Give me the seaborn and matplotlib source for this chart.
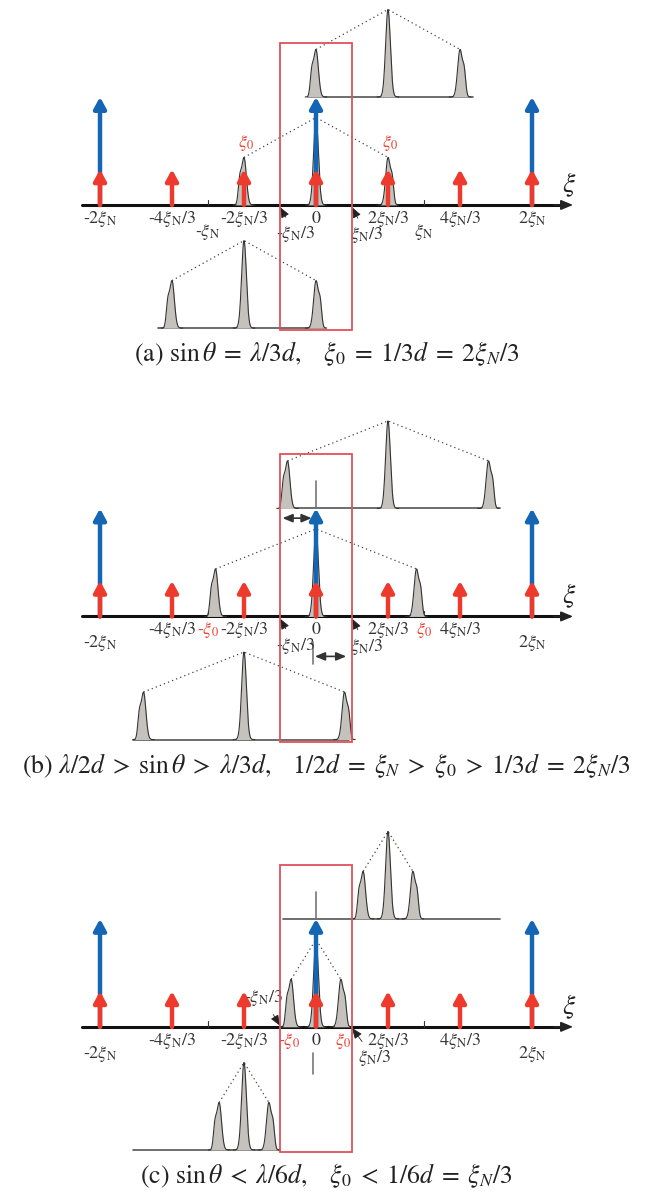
import numpy as np
import matplotlib
matplotlib.use('Agg')
import matplotlib.pyplot as plt
import seaborn as sns
from matplotlib.patches import Rectangle

sns.set_theme(style='white')
plt.rcParams['font.family'] = ['STIXGeneral', 'DejaVu Serif']
plt.rcParams['mathtext.fontset'] = 'stix'

# positions are in units of xi_N, heights in the same units
red_pos = [-2, -4/3, -2/3, 0, 2/3, 4/3, 2]
blue_pos = [-2, 0, 2]
red_h = 0.33
blue_h = 1.0
center_h = 0.81
side_h = 0.44

# one entry per panel (a), (b), (c)
xi0 = [2/3, 0.93, 0.23]
upper_span = [(-0.07, 1.45), (-0.32, 1.70), (-0.31, 1.70)]
lower_span = [(-1.46, 0.08), (-1.69, 0.31), (-1.69, -0.33)]
captions = [
    r'(a) $\sin\theta\;=\;\lambda/3d,\ \ \ \xi_0\;=\;1/3d\;=\;2\xi_N/3$',
    r'(b) $\lambda/2d\;>\;\sin\theta\;>\;\lambda/3d,\ \ \ 1/2d\;=\;\xi_N\;>\;\xi_0\;>\;1/3d\;=\;2\xi_N/3$',
    r'(c) $\sin\theta\;<\;\lambda/6d,\ \ \ \xi_0\;<\;1/6d\;=\;\xi_N/3$',
]

# axis labels: (text, x, row, red?)
labels_a = [(r'-2$\xi_{\rm N}$', -2, 1, False), (r'-4$\xi_{\rm N}$/3', -4/3, 1, False),
            (r'-$\xi_{\rm N}$', -1, 2, False), (r'-2$\xi_{\rm N}$/3', -2/3, 1, False),
            ('0', 0, 1, False), (r'2$\xi_{\rm N}$/3', 2/3, 1, False),
            (r'$\xi_{\rm N}$', 1, 2, False), (r'4$\xi_{\rm N}$/3', 4/3, 1, False),
            (r'2$\xi_{\rm N}$', 2, 1, False)]
labels_b = [(r'-2$\xi_{\rm N}$', -2, 2, False), (r'-4$\xi_{\rm N}$/3', -4/3, 1, False),
            (r'-$\xi_0$', -1, 1, True), (r'-2$\xi_{\rm N}$/3', -2/3, 1, False),
            ('0', 0, 1, False), (r'2$\xi_{\rm N}$/3', 2/3, 1, False),
            (r'$\xi_0$', 1, 1, True), (r'4$\xi_{\rm N}$/3', 4/3, 1, False),
            (r'2$\xi_{\rm N}$', 2, 2, False)]
labels_c = [(r'-2$\xi_{\rm N}$', -2, 2, False), (r'-4$\xi_{\rm N}$/3', -4/3, 1, False),
            (r'-2$\xi_{\rm N}$/3', -2/3, 1, False), (r'-$\xi_0$', -0.25, 1, True),
            ('0', 0, 1, False), (r'$\xi_0$', 0.25, 1, True),
            (r'2$\xi_{\rm N}$/3', 2/3, 1, False), (r'4$\xi_{\rm N}$/3', 4/3, 1, False),
            (r'2$\xi_{\rm N}$', 2, 2, False)]
all_labels = [labels_a, labels_b, labels_c]

# layout (in xi_N units, figure spans 650 x 1191 px, 108 px per xi_N)
px = 108.0
base_y = [9.13, 5.32, 1.52]
row_dy = {1: 0.13, 2: 0.25}
RED = '#ee3a2c'
BLUE = '#1565b5'
BOX = '#e0505a'
FILL = '#c5c1bc'
EDGE = '#333333'
TXT = '#333333'
LFS = 13


def peak(ax, c, h, base, side=0):
    x = np.linspace(c - 0.1, c + 0.1, 300)
    y = np.exp(-(x - c) ** 2 / (2 * 0.022 ** 2))
    if side:
        y = y + 0.45 * np.exp(-(x - c - side * 0.04) ** 2 / (2 * 0.014 ** 2))
    y = h * y / y.max()
    ax.fill_between(x, base, base + y, color=FILL, lw=0, zorder=3)
    sns.lineplot(x=x, y=base + y, ax=ax, color=EDGE, lw=0.8, zorder=4)


def triplet(ax, c, d, base):
    peak(ax, c - d, side_h, base, side=-1)
    peak(ax, c, center_h, base)
    peak(ax, c + d, side_h, base, side=1)
    ax.plot([c - d, c, c + d], [base + side_h, base + center_h, base + side_h],
            color='#444444', lw=0.9, dashes=(1, 2.5), zorder=2)


def arrow(ax, x, y0, y1, color, lw=3.2, hw=0.3, hl=0.55, ms=12):
    ax.annotate('', xy=(x, y1), xytext=(x, y0),
                arrowprops=dict(arrowstyle=f'-|>,head_length={hl},head_width={hw}',
                                lw=lw, color=color, mutation_scale=ms,
                                shrinkA=0, shrinkB=0), zorder=5)


def pointer(ax, txt, xy, xytext):
    ax.annotate(txt, xy=xy, xytext=xytext, fontsize=LFS, ha='center', va='center',
                color=TXT,
                arrowprops=dict(arrowstyle='-|>,head_length=0.5,head_width=0.2',
                                lw=0.6, color='#222222', shrinkA=3, shrinkB=0))


fig = plt.figure(figsize=(6.5, 11.91), dpi=100)
ax = fig.add_axes([0, 0, 1, 1])
ax.set_xlim(-316 / px, 334 / px)
ax.set_ylim(0, 1191 / px)
ax.axis('off')

for i in range(3):
    b = base_y[i]
    d = xi0[i]

    # main axis
    ax.plot([-2.17, 2.3], [b, b], color='#111111', lw=2.2, zorder=2)
    ax.annotate('', xy=(2.38, b), xytext=(2.2, b),
                arrowprops=dict(arrowstyle='-|>,head_length=0.6,head_width=0.25',
                                lw=1.2, color='#222222', mutation_scale=12,
                                shrinkA=0, shrinkB=0), zorder=2)
    for t in [-1, 1]:
        ax.plot([t, t], [b, b + 0.05], color='#333333', lw=0.8, zorder=2)
    ax.text(2.34, b + 0.19, r'$\xi$', fontsize=20, ha='center', va='center', color='#222222')

    # peaks on the main axis
    triplet(ax, 0, d, b)

    # delta arrows
    for x in blue_pos:
        arrow(ax, x, b, b + blue_h, BLUE)
    for x in red_pos:
        arrow(ax, x, b, b + red_h, RED)

    # magnified insets
    ub = b + 1.0
    ax.plot(upper_span[i], [ub, ub], color='#555555', lw=1.2, zorder=2)
    triplet(ax, 2/3, d, ub)
    lb = b - 1.14
    ax.plot(lower_span[i], [lb, lb], color='#555555', lw=1.2, zorder=2)
    triplet(ax, -2/3, d, lb)

    # red box around the first zone
    ax.add_patch(Rectangle((-1/3, b - 1.16), 2/3, 2.66, fill=False,
                           edgecolor=BOX, lw=1.3, zorder=6))

    # tick labels
    for txt, x, row, red in all_labels[i]:
        ax.text(x, b - row_dy[row], txt, fontsize=LFS, ha='center', va='center',
                color=RED if red else TXT)

    ax.text(0.1, b - 1.38, captions[i], fontsize=18.5, ha='center', va='center',
            color='#222222')

    # pointers to the zone edges
    if i == 2:
        pointer(ax, r'-$\xi_{\rm N}$/3', (-1/3, b + 0.01), (-0.49, b + 0.27))
        pointer(ax, r'$\xi_{\rm N}$/3', (1/3, b - 0.01), (0.54, b - 0.29))
    else:
        pointer(ax, r'-$\xi_{\rm N}$/3', (-1/3, b - 0.02), (-0.19, b - 0.27))
        pointer(ax, r'$\xi_{\rm N}$/3', (1/3, b - 0.02), (0.47, b - 0.28))

ba, bb, bc = base_y

# red xi_0 labels above the side peaks in (a)
for x in [-2/3, 2/3]:
    ax.text(x + 0.02, ba + 0.57, r'$\xi_0$', fontsize=LFS, ha='center', va='center', color=RED)

# centre markers and shift arrows in (b) and (c)
for b in [bb, bc]:
    ax.plot([0, 0], [b + 1.01, b + 1.25], color='#777777', lw=1.2, zorder=2)
    ax.plot([-0.03, -0.03], [b - 0.24, b - 0.44], color='#777777', lw=1.2, zorder=2)
for (x0, x1, y) in [(-0.31, -0.04, bb + 0.91), (-0.01, 0.28, bb - 0.37)]:
    ax.annotate('', xy=(x1, y), xytext=(x0, y),
                arrowprops=dict(arrowstyle='<|-|>,head_length=0.6,head_width=0.25',
                                lw=1.2, color='#333333', mutation_scale=10,
                                shrinkA=0, shrinkB=0), zorder=5)

fig.savefig('out.png', dpi=100)
